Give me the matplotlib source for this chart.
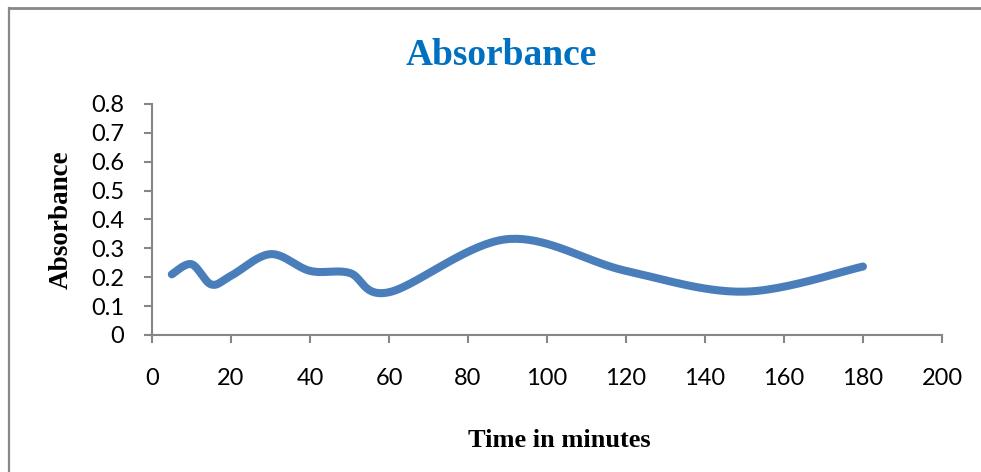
import numpy as np
import matplotlib.pyplot as plt
from matplotlib.lines import Line2D

# Absorbance readings over time
time_min = [5, 10, 15, 20, 30, 40, 50, 60, 90, 120, 150, 180]
absorbance = [0.21, 0.245, 0.175, 0.205, 0.28, 0.222, 0.215, 0.148, 0.332, 0.222, 0.15, 0.237]

x_ticks = [0, 20, 40, 60, 80, 100, 120, 140, 160, 180, 200]
y_ticks = [0, 0.1, 0.2, 0.3, 0.4, 0.5, 0.6, 0.7, 0.8]
y_labels = ["0", "0.1", "0.2", "0.3", "0.4", "0.5", "0.6", "0.7", "0.8"]


def smooth_line(xs, ys, steps=40):
    # Bezier smoothing through every point, spreadsheet style
    p = np.column_stack([xs, ys]).astype(float)
    n = len(p)
    out = []
    t = np.linspace(0, 1, steps)[:, None]
    for i in range(n - 1):
        p0 = p[i - 1] if i > 0 else p[i]
        p1, p2 = p[i], p[i + 1]
        p3 = p[i + 2] if i + 2 < n else p[i + 1]
        c1 = p1 + (p2 - p0) / 6
        c2 = p2 - (p3 - p1) / 6
        seg = ((1 - t) ** 3) * p1 + 3 * ((1 - t) ** 2) * t * c1 \
            + 3 * (1 - t) * t ** 2 * c2 + t ** 3 * p2
        out.append(seg if i == 0 else seg[1:])
    seg = np.vstack(out)
    return seg[:, 0], seg[:, 1]


fig = plt.figure(figsize=(9.81, 4.72), dpi=100)
ax = fig.add_axes([0.155, 0.2903, 0.8052, 0.4894])

sx, sy = smooth_line(time_min, absorbance)
ax.plot(sx, sy, color="#4a7ebb", lw=5.8, solid_capstyle="round",
        solid_joinstyle="round")

ax.set_xlim(0, 200)
ax.set_ylim(0, 0.8)
ax.set_xticks(x_ticks)
ax.set_yticks(y_ticks)
ax.set_yticklabels(y_labels)

axis_gray = "#868686"
for side in ["top", "right"]:
    ax.spines[side].set_visible(False)
for side in ["left", "bottom"]:
    ax.spines[side].set_color(axis_gray)
    ax.spines[side].set_linewidth(1.5)
ax.tick_params(axis="both", direction="out", length=6, width=1.5,
               color=axis_gray, labelsize=17, labelcolor="black")
ax.tick_params(axis="x", pad=18)
ax.tick_params(axis="y", pad=14)
for lbl in ax.get_xticklabels() + ax.get_yticklabels():
    lbl.set_family("Lato")

fig.text(0.511, 0.862, "Absorbance", ha="center", va="baseline",
         fontsize=27, fontweight="bold", family="Liberation Serif", color="#0070c0")
fig.text(0.570, 0.053, "Time in minutes", ha="center", va="baseline",
         fontsize=19, fontweight="bold", family="Liberation Serif")
fig.text(0.062, 0.534, "Absorbance", ha="center", va="center", rotation=90,
         fontsize=19.5, fontweight="bold", family="Liberation Serif")

# chart frame (runs off the right and bottom edges)
fig.add_artist(Line2D([9 / 981, 1.0], [1 - 8 / 472, 1 - 8 / 472],
                      transform=fig.transFigure, color="#888888", lw=2))
fig.add_artist(Line2D([9 / 981, 9 / 981], [0.0, 1 - 8 / 472],
                      transform=fig.transFigure, color="#888888", lw=1.6))

fig.savefig("out.png", dpi=100)
